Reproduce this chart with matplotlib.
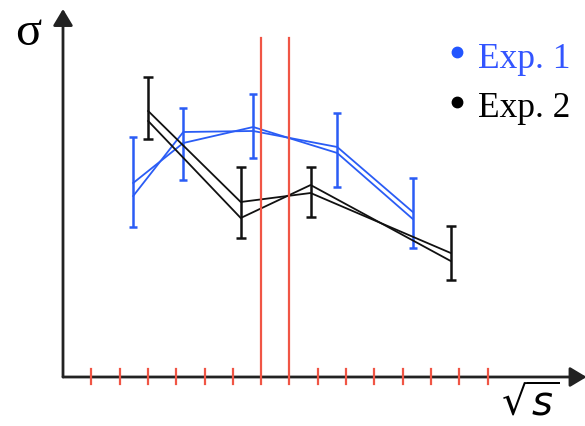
import matplotlib
matplotlib.use("Agg")
import matplotlib.pyplot as plt
from matplotlib.lines import Line2D

# Exp. 1 (blue): x positions, two runs, error bar centres and half widths
x_exp1 = [2.48, 4.25, 6.72, 9.69, 12.36]
exp1_a = [1.81, 2.45, 2.46, 2.30, 1.65]
exp1_b = [1.94, 2.34, 2.50, 2.24, 1.58]
exp1_mid = [1.95, 2.33, 2.51, 2.27, 1.64]
exp1_err = [0.45, 0.36, 0.32, 0.37, 0.35]

# Exp. 2 (black)
x_exp2 = [3.01, 6.28, 8.75, 13.70]
exp2_a = [2.66, 1.75, 1.84, 1.24]
exp2_b = [2.56, 1.59, 1.92, 1.16]
exp2_mid = [2.69, 1.75, 1.85, 1.24]
exp2_err = [0.31, 0.355, 0.25, 0.27]

# binning on the sqrt(s) axis; 7 and 8 are the long cut lines
ticks = list(range(1, 16))
cut_lines = [7, 8]

blue = '#2a5cf5'
red = '#f05545'

W, H = 585, 426
fig = plt.figure(figsize=(W / 100, H / 100), dpi=100)
ax = fig.add_axes([63 / W, (H - 377) / H, (W - 63) / W, (377 - 5) / H])
ax.set_xlim(0, (W - 63) / 28.3)
ax.set_ylim(0, 3.72)
ax.axis('off')

# axes drawn as arrows
arrow = dict(arrowstyle='-|>,head_length=0.5,head_width=0.3', lw=2,
             color='#222222', shrinkA=0, shrinkB=0, mutation_scale=20)
ax.annotate('', xy=(18.5, 0), xytext=(0, 0), arrowprops=arrow,
            annotation_clip=False)
ax.annotate('', xy=(0, 3.68), xytext=(0, 0), arrowprops=arrow,
            annotation_clip=False)

for t in ticks:
    if t in cut_lines:
        ax.plot([t, t], [-0.07, 3.39], color=red, lw=1.6, zorder=5,
                clip_on=False)
    else:
        ax.plot([t, t], [-0.07, 0.08], color=red, lw=1.6, zorder=5,
                clip_on=False)

ax.plot(x_exp1, exp1_a, color=blue, lw=1.3)
ax.plot(x_exp1, exp1_b, color=blue, lw=1.3)
ax.errorbar(x_exp1, exp1_mid, yerr=exp1_err, fmt='none', ecolor=blue,
            elinewidth=1.8, capsize=3.2, capthick=1.8)

ax.plot(x_exp2, exp2_a, color='#111111', lw=1.3)
ax.plot(x_exp2, exp2_b, color='#111111', lw=1.3)
ax.errorbar(x_exp2, exp2_mid, yerr=exp2_err, fmt='none', ecolor='#111111',
            elinewidth=1.8, capsize=3.4, capthick=1.8)

# labels
fig.text(28 / W, 1 - 33 / H, 'σ', family='Liberation Serif', fontsize=35,
         ha='center', va='center')
fig.text(530 / W, 1 - 404 / H, r'$\sqrt{s}$', fontsize=29,
         ha='center', va='center')

# legend
fig.text(478 / W, 1 - 68 / H, 'Exp. 1', family='Liberation Serif',
         fontsize=25.5, color='#3355ff', va='baseline')
fig.text(478 / W, 1 - 117 / H, 'Exp. 2', family='Liberation Serif',
         fontsize=25.5, color='black', va='baseline')
for yy, c in [(51.5, '#2255ff'), (102, 'black')]:
    fig.add_artist(Line2D([457 / W], [1 - yy / H], marker='o', ms=7.5,
                          color=c, transform=fig.transFigure))

fig.savefig('out.png', dpi=100)
